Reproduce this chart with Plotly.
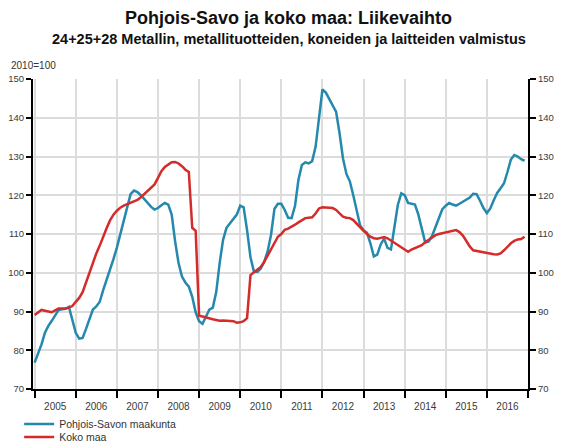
import plotly.graph_objects as go

start_year = 2005
n_months = 144

pohjois_savo = [
    76.8, 79.0, 81.5, 84.5, 86.3, 87.6, 89.0, 90.4, 90.6, 90.7, 91.2, 88.0,
    84.5, 83.0, 83.2, 85.5, 88.0, 90.5, 91.3, 92.5, 95.5, 98.0, 100.5, 103.5,
    106.5, 110.0, 113.0, 117.0, 120.3, 121.2, 120.8, 120.0, 119.0, 118.0, 117.0, 116.3,
    116.7, 117.4, 118.0, 117.6, 115.0, 108.1, 102.5, 99.0, 97.5, 96.4, 93.8, 89.8,
    87.5, 86.8, 88.8, 90.5, 91.0, 95.0, 102.5, 108.5, 111.6, 112.8, 114.0, 115.0,
    117.3, 116.9, 111.0, 104.0, 100.3, 100.2, 101.1, 102.8, 105.5, 109.8, 116.5, 117.8,
    117.8, 116.2, 114.2, 114.1, 117.3, 124.0, 127.8, 128.5, 128.2, 128.8, 132.5, 139.5,
    147.3, 146.5, 144.7, 143.3, 141.5, 136.0, 129.5, 125.5, 123.6, 120.0, 115.8, 112.2,
    111.0, 110.3, 107.6, 104.2, 104.7, 107.3, 108.8, 106.4, 106.0, 112.3, 117.5, 120.5,
    120.0, 118.0, 117.7, 117.6, 115.0, 111.0, 107.8, 108.1, 109.5, 111.8, 114.2, 116.4,
    117.3, 118.0, 117.6, 117.3, 117.8, 118.4, 118.8, 119.4, 120.4, 120.3, 118.6, 116.7,
    115.4, 116.6, 118.7, 120.6, 121.8, 123.1, 126.0, 129.2, 130.4, 130.0, 129.3, 128.9,
]

koko_maa = [
    89.1, 89.8, 90.4, 90.2, 89.9, 89.8, 90.3, 90.8, 90.8, 90.8, 91.0, 91.4,
    92.5, 93.5, 95.0, 97.5, 100.5, 103.0, 105.0, 107.0, 109.5, 111.5, 113.5, 115.0,
    116.0, 116.8, 117.3, 117.7, 118.0, 118.3, 118.8, 119.5, 120.3, 121.0, 122.0, 122.8,
    124.5, 126.2, 127.3, 128.0, 128.5, 128.6, 128.2, 127.5, 126.6, 126.0, 111.6, 110.8,
    88.9, 88.7, 88.4, 88.1, 88.0, 87.8, 87.6, 87.7, 87.6, 87.6, 87.5, 87.1,
    87.2, 87.5, 88.3, 99.4, 100.1, 100.6, 101.5, 102.8, 104.5, 106.0, 107.8, 109.3,
    110.0, 111.1, 111.4, 111.8, 112.4, 113.0, 113.6, 114.1, 114.2, 114.3, 115.3, 116.6,
    116.9, 116.9, 116.8, 116.7, 116.2, 115.3, 114.5, 114.2, 114.1, 113.6, 112.6, 111.7,
    110.8, 110.0, 109.3, 108.9, 108.8, 109.0, 109.2, 108.9, 108.3, 107.6, 107.0, 106.4,
    106.0, 105.4, 106.0, 106.3, 106.6, 107.1, 107.9, 108.5, 109.1, 109.7, 110.0, 110.2,
    110.3, 110.5, 110.8, 111.0, 110.5, 109.6, 108.2, 106.8, 105.8, 105.6, 105.5, 105.3,
    105.1, 104.9, 104.8, 104.7, 105.0, 105.8, 106.7, 107.6, 108.2, 108.6, 108.7, 109.3,
]

year_labels = [str(y) for y in range(2005, 2017)]
series_names = ["Pohjois-Savon maakunta", "Koko maa"]
title_text = "Pohjois-Savo ja koko maa: Liikevaihto"
subtitle_text = "24+25+28 Metallin, metallituotteiden, koneiden ja laitteiden valmistus"
index_text = "2010=100"

x_vals = [start_year + i / 12 for i in range(n_months)]

FONT = "Liberation Sans, Arial, sans-serif"
BLUE = "#2489ad"
RED = "#d42b2b"
GRID = "#dcdcdc"

fig = go.Figure()
fig.add_trace(go.Scatter(x=x_vals, y=pohjois_savo, mode="lines", name=series_names[0],
                         line=dict(color=BLUE, width=2.5), legend="legend"))
fig.add_trace(go.Scatter(x=x_vals, y=koko_maa, mode="lines", name=series_names[1],
                         line=dict(color=RED, width=2.5), legend="legend2"))
fig.add_trace(go.Scatter(x=x_vals, y=koko_maa, mode="lines", yaxis="y2",
                         line=dict(color="rgba(0,0,0,0)", width=0), showlegend=False,
                         hoverinfo="skip"))

x_tick_font = dict(family=FONT, size=10, color="#3a3a3a")
y_tick_font = dict(family=FONT, size=9.5, color="#3a3a3a")

# page body has an 8px margin, so the figure is sized 8px smaller and shifted
fig.update_layout(
    width=570, height=437,
    margin=dict(l=25, r=50, t=71, b=56, autoexpand=False),
    paper_bgcolor="white", plot_bgcolor="white",
    font=dict(family=FONT),
    xaxis=dict(
        range=[2004.96, 2017.0],
        tickmode="array",
        tickvals=[int(y) + 0.5 for y in year_labels],
        ticktext=year_labels,
        ticks="outside", ticklen=7, tickcolor="rgba(0,0,0,0)",
        showgrid=False, zeroline=False,
        showline=True, linecolor="black", linewidth=2,
        tickfont=x_tick_font,
        minor=dict(tick0=2005, dtick=1, ticks="outside", ticklen=7,
                   tickcolor="black", tickwidth=1.5,
                   showgrid=True, gridcolor=GRID, gridwidth=1.5),
    ),
    yaxis=dict(
        range=[70, 150], dtick=10,
        ticks="outside", ticklen=5, tickcolor="black", tickwidth=1.5,
        showgrid=True, gridcolor=GRID, gridwidth=1.5, zeroline=False,
        showline=True, linecolor="black", linewidth=2,
        tickfont=y_tick_font,
    ),
    yaxis2=dict(
        range=[70, 150], dtick=10, overlaying="y", side="right",
        ticks="outside", ticklen=6, tickcolor="black", tickwidth=1.5,
        showgrid=False, zeroline=False,
        showline=True, linecolor="black", linewidth=2,
        tickfont=y_tick_font,
    ),
    legend=dict(x=-0.028, y=-0.113, xanchor="left", yanchor="middle",
                font=dict(family=FONT, size=10.5, color="#333333"),
                bgcolor="rgba(0,0,0,0)", borderwidth=0),
    legend2=dict(x=-0.028, y=-0.155, xanchor="left", yanchor="middle",
                 font=dict(family=FONT, size=10.5, color="#333333"),
                 bgcolor="rgba(0,0,0,0)", borderwidth=0),
    annotations=[
        dict(text="<b>" + title_text + "</b>", xref="paper", yref="paper",
             x=0.517, y=1.198, xanchor="center", yanchor="middle", showarrow=False,
             font=dict(family=FONT, size=18, color="#111111")),
        dict(text="<b>" + subtitle_text + "</b>", xref="paper", yref="paper",
             x=0.517, y=1.129, xanchor="center", yanchor="middle", showarrow=False,
             font=dict(family=FONT, size=14.5, color="#111111")),
        dict(text=index_text, xref="paper", yref="paper",
             x=-0.049, y=1.043, xanchor="left", yanchor="middle", showarrow=False,
             font=dict(family=FONT, size=10, color="#333333")),
    ],
)

fig.write_html("out.html")
